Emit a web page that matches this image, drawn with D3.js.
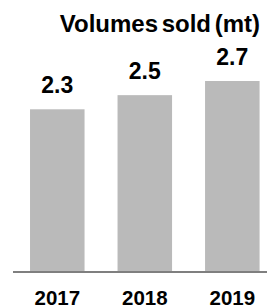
<!DOCTYPE html>
<html><head><meta charset="utf-8">
<script src="https://cdn.jsdelivr.net/npm/d3@7"></script>
<style>html,body{margin:0;padding:0;background:#fff;}svg{display:block;}</style>
</head><body>
<svg id="c" width="267" height="307"></svg>
<script>
const title = "Volumes sold (mt)";
const categories = ["2017", "2018", "2019"];
const values = [2.3, 2.5, 2.7];
const valueLabels = ["2.3", "2.5", "2.7"];

const W = 267, H = 307;
const svg = d3.select("#c");
const font = "'Liberation Sans', Arial, sans-serif";
const baseY = 272;

const x = d3.scaleBand().domain(categories).range([13.4, 276.2]).paddingInner(0.377).paddingOuter(0.19);
const y = d3.scaleLinear().domain([0, 2.7]).range([baseY, 81]);

svg.selectAll("rect.bar").data(values).enter().append("rect")
  .attr("class", "bar")
  .attr("x", (d, i) => x(categories[i]))
  .attr("width", x.bandwidth())
  .attr("y", d => y(d))
  .attr("height", d => baseY - y(d))
  .attr("fill", "#bababa");

svg.append("line").attr("x1", 13).attr("x2", 267).attr("y1", baseY).attr("y2", baseY)
  .attr("stroke", "#7f7f7f").attr("stroke-width", 2);

svg.selectAll("text.val").data(values).enter().append("text")
  .attr("class", "val")
  .attr("x", (d, i) => x(categories[i]) + x.bandwidth() / 2)
  .attr("y", d => y(d) - 16)
  .attr("text-anchor", "middle")
  .attr("font-family", font).attr("font-weight", "bold").attr("font-size", 23)
  .attr("fill", "#000")
  .text((d, i) => valueLabels[i]);

const xAxis = d3.axisBottom(x).tickSize(0).tickPadding(0);
const gx = svg.append("g").attr("transform", `translate(0,${baseY})`).call(xAxis);
gx.select(".domain").remove();
gx.selectAll("text").attr("y", 0).attr("dy", 0)
  .attr("transform", "translate(0,32.5)")
  .attr("font-family", font).attr("font-weight", "bold").attr("font-size", 20.5)
  .attr("fill", "#000");

svg.append("text").attr("x", 260).attr("y", 32).attr("text-anchor", "end")
  .attr("font-family", font).attr("font-weight", "bold").attr("font-size", 24)
  .attr("word-spacing", -3)
  .attr("fill", "#000").text(title);
</script>
</body></html>
